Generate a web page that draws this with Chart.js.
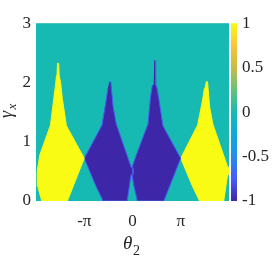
<!DOCTYPE html>
<html>
<head>
<meta charset="utf-8">
<script src="https://cdn.jsdelivr.net/npm/chart.js@4.4.0/dist/chart.umd.min.js"></script>
<style>
  html, body { margin: 0; padding: 0; background: #fff; }
  #wrap { width: 273px; height: 257px; }
</style>
</head>
<body>
<div id="wrap"><canvas id="phase"></canvas></div>
<script>
const SERIF = "'Liberation Serif', 'Times New Roman', serif";
Chart.defaults.font.family = SERIF;
Chart.defaults.color = "#262626";

// region outlines, [theta / pi, gamma_x]
const yellowLeft = [
  [-1.565, 2.32], [-1.53, 2.32], [-1.52, 2.12], [-1.49, 2.0], [-1.455, 1.73],
  [-1.37, 1.27], [-1.0, 0.72], [-1.2, 0.31], [-1.35, 0], [-1.88, 0],
  [-1.965, 0.25], [-1.975, 0.5], [-1.92, 0.78], [-1.70, 1.28], [-1.63, 1.73],
  [-1.59, 2.0], [-1.575, 2.12],
];
const blueLeft = [
  [-0.48, 2.01], [-0.45, 2.01], [-0.40, 1.58], [-0.336, 1.30], [-0.025, 0.567],
  [0.01, 0.56], [0.01, 0.45], [-0.03, 0.44], [-0.11, 0], [-0.61, 0],
  [-0.76, 0.255], [-1.0, 0.72], [-0.632, 1.28], [-0.549, 1.69], [-0.51, 1.9],
];
const blueRight = [
  [0.45, 2.37], [0.475, 2.37], [0.48, 1.97], [0.51, 1.9], [0.545, 1.73],
  [0.63, 1.27], [1.0, 0.72], [0.8, 0.31], [0.65, 0], [0.10, 0],
  [0.03, 0.25], [-0.01, 0.44], [-0.01, 0.57], [0.08, 0.78], [0.321, 1.30],
  [0.37, 1.73], [0.41, 1.95], [0.44, 1.97],
];
const yellowRight = [
  [1.52, 2.01], [1.555, 2.01], [1.60, 1.58], [1.664, 1.30], [1.975, 0.567],
  [2.01, 0.56], [2.01, 0.45], [1.97, 0.44], [1.89, 0], [1.39, 0],
  [1.24, 0.255], [1.0, 0.72], [1.35, 1.28], [1.45, 1.69], [1.49, 1.9],
];

const thetaTicks = [-1, 0, 1];
const thetaLabels = ["-π", "0", "π"];
const gammaTicks = [0, 1, 2, 3];
const colorTicks = [-1, -0.5, 0, 0.5, 1];
const colorLabels = ["-1", "-0.5", "0", "0.5", "1"];

const TEAL = "rgb(22,186,178)";
const YELLOW = "rgb(249,251,21)";
const BLUE = "rgb(62,38,168)";

// parula-like colour stops for the colour bar, bottom (-1) to top (1)
const parula = [
  "rgb(62,38,168)", "rgb(71,90,248)", "rgb(38,140,236)", "rgb(12,170,218)",
  "rgb(22,186,178)", "rgb(100,196,120)", "rgb(200,188,70)", "rgb(252,196,56)",
  "rgb(249,251,21)",
];

function pts(arr) {
  return arr.map(p => ({ x: p[0], y: p[1] }));
}

function region(label, arr, color, edge) {
  return {
    label: label,
    data: pts(arr),
    showLine: true,
    fill: "shape",
    backgroundColor: color,
    borderColor: edge,
    borderWidth: 1,
    pointRadius: 0,
    tension: 0,
  };
}

const bgPlugin = {
  id: "bg",
  beforeDatasetsDraw(chart) {
    const { ctx, chartArea: a } = chart;
    ctx.save();
    ctx.fillStyle = TEAL;
    ctx.fillRect(a.left, a.top, a.right - a.left, a.bottom - a.top);
    ctx.restore();
  },
};

const colorbarPlugin = {
  id: "colorbar",
  afterDraw(chart) {
    const { ctx, chartArea: a } = chart;
    const s = chart.scales.cb;
    const x0 = s.left + 2;
    const g = ctx.createLinearGradient(0, a.bottom, 0, a.top);
    parula.forEach((c, i) => g.addColorStop(i / (parula.length - 1), c));
    ctx.save();
    ctx.fillStyle = g;
    ctx.fillRect(x0, a.top, 6, a.bottom - a.top);
    ctx.restore();
  },
};

const titlesPlugin = {
  id: "titles",
  afterDraw(chart) {
    const ctx = chart.ctx;
    ctx.save();
    ctx.fillStyle = "#262626";
    ctx.textBaseline = "alphabetic";
    ctx.textAlign = "left";
    // theta_2
    ctx.font = "italic 19px " + SERIF;
    ctx.fillText("θ", 123, 249);
    ctx.font = "14px " + SERIF;
    ctx.fillText("2", 133, 255);
    // gamma_x, rotated
    ctx.translate(12, 118);
    ctx.rotate(-Math.PI / 2);
    ctx.font = "italic 18px " + SERIF;
    ctx.fillText("γ", 0, 0);
    ctx.font = "italic 13px " + SERIF;
    ctx.fillText("x", 8.5, 4);
    ctx.restore();
  },
};

const tickFont = { family: SERIF, size: 17 };

new Chart(document.getElementById("phase"), {
  type: "scatter",
  data: {
    datasets: [
      region("y1", yellowLeft, YELLOW, YELLOW),
      region("b1", blueLeft, BLUE, "rgb(70,95,235)"),
      region("b2", blueRight, BLUE, "rgb(70,95,235)"),
      region("y2", yellowRight, YELLOW, YELLOW),
    ],
  },
  options: {
    responsive: true,
    maintainAspectRatio: false,
    animation: false,
    layout: { padding: { top: 9, left: 0, right: 0, bottom: 0 } },
    plugins: {
      legend: { display: false },
      tooltip: { enabled: false },
    },
    scales: {
      x: {
        type: "linear",
        min: -2,
        max: 2,
        grid: { display: false, drawTicks: false },
        border: { display: false },
        afterBuildTicks: s => { s.ticks = thetaTicks.map(v => ({ value: v })); },
        afterFit: s => { s.height = 56; },
        ticks: {
          padding: 10,
          maxRotation: 0,
          font: tickFont,
          callback: v => thetaLabels[thetaTicks.indexOf(v)],
        },
      },
      y: {
        type: "linear",
        min: 0,
        max: 3,
        grid: { display: false, drawTicks: false },
        border: { display: false },
        afterBuildTicks: s => { s.ticks = gammaTicks.map(v => ({ value: v })); },
        afterFit: s => { s.width = 36; },
        ticks: { padding: 5, font: tickFont },
      },
      cb: {
        type: "linear",
        axis: "y",
        position: "right",
        min: -1,
        max: 1,
        grid: { display: false, drawTicks: false },
        border: { display: false },
        afterBuildTicks: s => { s.ticks = colorTicks.map(v => ({ value: v })); },
        afterFit: s => { s.width = 44; },
        ticks: {
          padding: 13,
          font: tickFont,
          callback: v => colorLabels[colorTicks.indexOf(v)],
        },
      },
    },
  },
  plugins: [bgPlugin, colorbarPlugin, titlesPlugin],
});
</script>
</body>
</html>
